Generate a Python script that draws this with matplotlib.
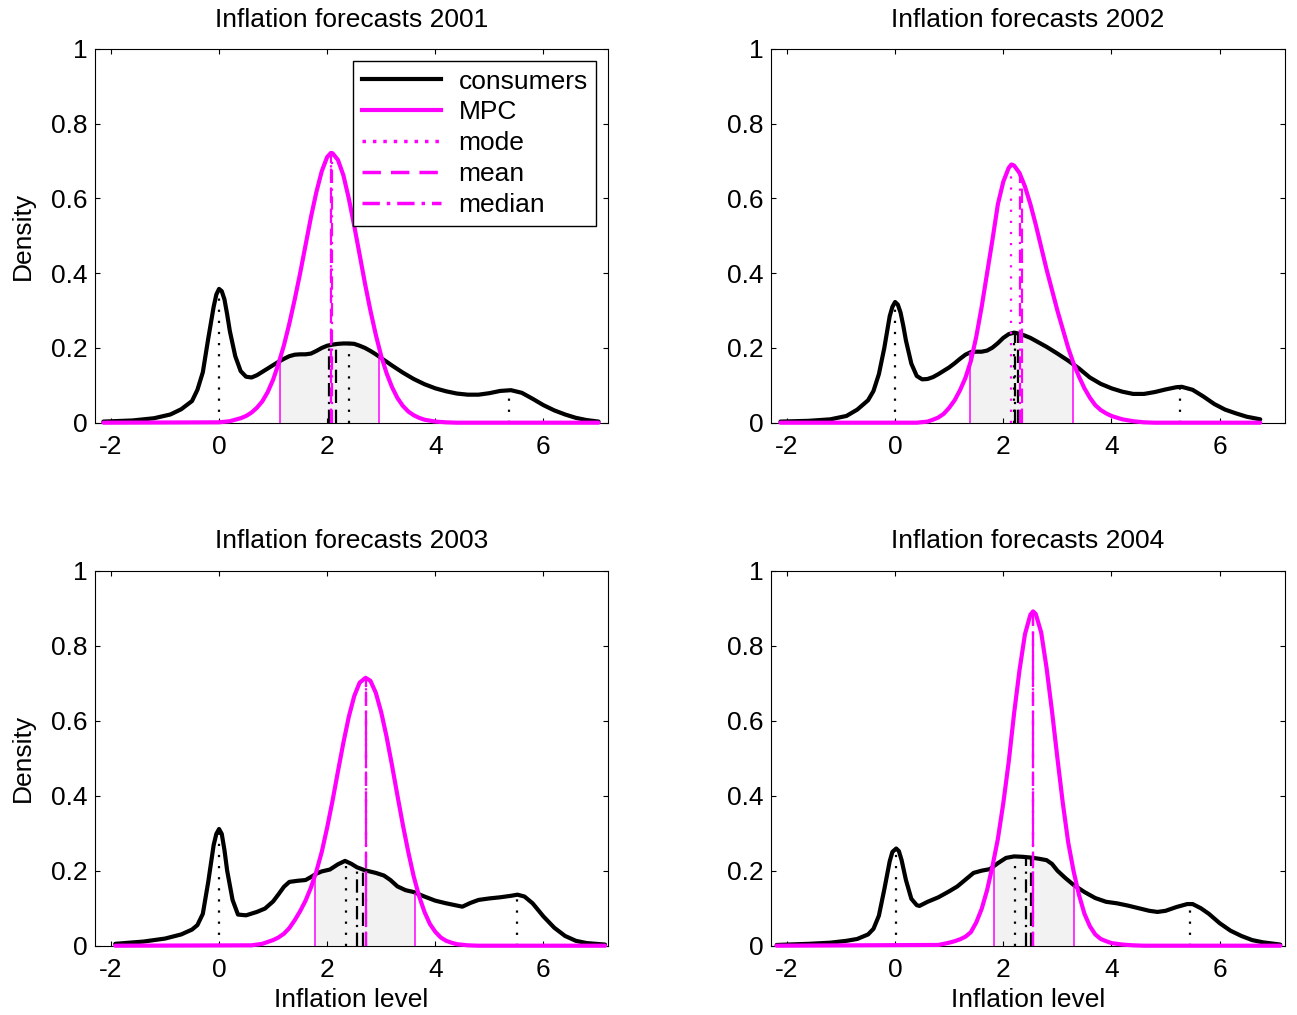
import numpy as np
import matplotlib
matplotlib.use("Agg")
import matplotlib.pyplot as plt
from matplotlib.lines import Line2D

plt.rcParams['font.family'] = ['Liberation Sans', 'DejaVu Sans']
plt.rcParams['axes.unicode_minus'] = False

# ---------------- data ----------------
years = [2001, 2002, 2003, 2004]

x_ticks = [-2, 0, 2, 4, 6]
x_tick_labels = ['-2', '0', '2', '4', '6']
y_ticks = [0, 0.2, 0.4, 0.6, 0.8, 1]
y_tick_labels = ['0', '0.2', '0.4', '0.6', '0.8', '1']
legend_labels = ['consumers', 'MPC', 'mode', 'mean', 'median']

# consumer densities (x, density)
cons_2001 = [(-2.14, .003), (-1.6, .006), (-1.2, .012), (-0.9, .022), (-0.7, .036), (-0.5, .058),
             (-0.4, .088), (-0.3, .135), (-0.2, .225), (-0.1, .31), (-0.05, .343), (0.0, .358),
             (0.05, .352), (0.1, .33), (0.15, .29), (0.2, .245), (0.3, .178), (0.4, .138), (0.5, .123),
             (0.6, .121), (0.7, .127), (0.8, .136), (0.9, .145), (1.0, .154), (1.1, .163), (1.2, .171),
             (1.3, .178), (1.4, .182), (1.5, .183), (1.6, .183), (1.7, .185), (1.8, .192), (1.9, .2),
             (2.0, .206), (2.1, .209), (2.2, .211), (2.3, .212), (2.4, .212), (2.5, .211), (2.6, .206),
             (2.7, .2), (2.8, .192), (2.9, .183), (3.0, .173), (3.2, .153), (3.4, .134), (3.6, .117),
             (3.8, .103), (4.0, .092), (4.2, .084), (4.4, .078), (4.6, .075), (4.8, .075), (5.0, .079),
             (5.2, .085), (5.4, .087), (5.6, .08), (5.8, .064), (6.0, .047), (6.2, .033), (6.4, .022),
             (6.6, .013), (6.8, .007), (7.02, .003)]
cons_2002 = [(-2.12, .003), (-1.6, .005), (-1.2, .009), (-0.9, .018), (-0.7, .035), (-0.5, .06),
             (-0.4, .085), (-0.3, .13), (-0.2, .2), (-0.1, .285), (-0.05, .31), (0.0, .323),
             (0.05, .316), (0.1, .295), (0.15, .26), (0.2, .22), (0.3, .158), (0.4, .125), (0.5, .116),
             (0.6, .117), (0.7, .122), (0.8, .13), (0.9, .139), (1.0, .148), (1.1, .159), (1.2, .171),
             (1.3, .182), (1.4, .189), (1.5, .19), (1.6, .19), (1.7, .193), (1.8, .201), (1.9, .213),
             (2.0, .227), (2.1, .237), (2.2, .241), (2.3, .238), (2.4, .233), (2.5, .227), (2.6, .219),
             (2.7, .211), (2.8, .203), (2.9, .194), (3.0, .185), (3.2, .166), (3.4, .145), (3.6, .121),
             (3.8, .104), (4.0, .092), (4.2, .083), (4.4, .077), (4.6, .077), (4.8, .082), (5.0, .089),
             (5.2, .095), (5.3, .096), (5.5, .088), (5.7, .07), (5.9, .05), (6.1, .035), (6.3, .025),
             (6.5, .016), (6.75, .009)]
cons_2003 = [(-1.92, .005), (-1.4, .011), (-1.0, .019), (-0.7, .03), (-0.5, .043), (-0.4, .055),
             (-0.3, .085), (-0.2, .17), (-0.1, .268), (-0.05, .298), (0.0, .311), (0.05, .298),
             (0.1, .255), (0.15, .2), (0.25, .122), (0.35, .083), (0.5, .081), (0.7, .09), (0.85, .099),
             (1.0, .118), (1.1, .137), (1.2, .157), (1.3, .17), (1.45, .173), (1.6, .175), (1.7, .183),
             (1.8, .192), (1.9, .198), (2.05, .203), (2.2, .217), (2.33, .226), (2.45, .218), (2.55, .209),
             (2.7, .201), (2.9, .194), (3.05, .187), (3.17, .175), (3.3, .158), (3.45, .148), (3.6, .143),
             (3.8, .131), (4.0, .12), (4.2, .113), (4.4, .107), (4.5, .104), (4.65, .114), (4.8, .122),
             (5.0, .126), (5.2, .129), (5.4, .133), (5.52, .136), (5.65, .131), (5.8, .113), (6.0, .078),
             (6.2, .048), (6.4, .026), (6.6, .013), (6.8, .007), (7.14, .003)]
cons_2004 = [(-2.19, .002), (-1.6, .005), (-1.2, .008), (-0.9, .013), (-0.7, .018), (-0.5, .03),
             (-0.4, .045), (-0.3, .08), (-0.2, .15), (-0.1, .225), (-0.05, .25), (0.02, .259),
             (0.07, .252), (0.12, .228), (0.2, .175), (0.3, .125), (0.4, .108), (0.45, .106), (0.6, .117),
             (0.8, .129), (1.0, .145), (1.15, .158), (1.3, .176), (1.45, .194), (1.6, .2), (1.75, .204),
             (1.9, .22), (2.05, .234), (2.2, .238), (2.35, .237), (2.5, .235), (2.65, .232), (2.8, .228),
             (2.9, .218), (3.0, .2), (3.15, .18), (3.3, .162), (3.5, .143), (3.7, .127), (3.9, .117),
             (4.1, .113), (4.3, .107), (4.5, .1), (4.7, .093), (4.85, .09), (5.0, .093), (5.2, .103),
             (5.4, .111), (5.5, .111), (5.65, .1), (5.8, .085), (6.0, .06), (6.2, .04), (6.4, .026),
             (6.6, .015), (6.8, .009), (7.12, .003)]

# MPC densities (x, density)
mpc_2001 = [(-2.14, 0), (0.0, .001), (0.2, .004), (0.4, .012), (0.5, .018), (0.6, .027), (0.7, .040),
            (0.8, .057), (0.9, .082), (1.0, .115), (1.1, .158), (1.2, .207), (1.3, .265), (1.4, .330),
            (1.5, .400), (1.6, .475), (1.7, .550), (1.8, .617), (1.9, .673), (2.0, .711), (2.07, .722),
            (2.1, .721), (2.2, .703), (2.3, .662), (2.4, .600), (2.5, .527), (2.6, .450), (2.7, .372),
            (2.8, .300), (2.9, .235), (3.0, .178), (3.1, .132), (3.2, .095), (3.3, .066), (3.4, .045),
            (3.5, .030), (3.6, .020), (3.7, .013), (3.8, .008), (4.0, .003), (4.2, .001), (4.4, 0),
            (7.02, 0)]
mpc_2002 = [(-2.12, 0), (0.4, 0), (0.6, .003), (0.7, .008), (0.8, .014), (0.9, .024), (1.0, .040),
            (1.1, .060), (1.2, .087), (1.3, .120), (1.4, .165), (1.5, .230), (1.6, .310), (1.7, .400),
            (1.8, .490), (1.9, .585), (2.0, .645), (2.1, .682), (2.15, .691), (2.2, .688), (2.3, .668),
            (2.4, .632), (2.5, .585), (2.6, .530), (2.7, .470), (2.8, .410), (2.9, .355), (3.0, .300),
            (3.1, .250), (3.2, .200), (3.3, .158), (3.4, .123), (3.5, .092), (3.6, .067), (3.7, .047),
            (3.8, .034), (3.9, .025), (4.0, .018), (4.2, .009), (4.4, .004), (4.6, .001), (4.8, 0),
            (6.75, 0)]
mpc_2003 = [(-1.92, 0), (0.6, .001), (0.8, .005), (0.9, .010), (1.0, .015), (1.1, .022), (1.2, .032),
            (1.3, .047), (1.4, .068), (1.5, .092), (1.6, .120), (1.7, .155), (1.8, .198), (1.9, .250),
            (2.0, .315), (2.1, .387), (2.2, .465), (2.3, .541), (2.4, .610), (2.5, .665), (2.6, .701),
            (2.71, .714), (2.8, .706), (2.9, .674), (3.0, .622), (3.1, .556), (3.2, .480), (3.3, .400),
            (3.4, .322), (3.5, .250), (3.6, .185), (3.7, .132), (3.8, .090), (3.9, .058), (4.0, .037),
            (4.1, .022), (4.2, .013), (4.3, .008), (4.4, .004), (4.6, .001), (4.8, 0), (7.14, 0)]
mpc_2004 = [(-2.19, 0), (0.8, .002), (1.0, .008), (1.1, .012), (1.2, .017), (1.3, .024), (1.4, .036),
            (1.5, .062), (1.6, .098), (1.7, .148), (1.8, .212), (1.9, .285), (2.0, .380), (2.1, .490),
            (2.2, .620), (2.3, .735), (2.4, .830), (2.5, .882), (2.55, .891), (2.6, .884), (2.7, .835),
            (2.8, .740), (2.9, .625), (3.0, .500), (3.1, .380), (3.2, .275), (3.3, .198), (3.4, .135),
            (3.5, .085), (3.6, .052), (3.7, .030), (3.8, .018), (3.9, .012), (4.0, .007), (4.2, .003),
            (4.4, .001), (4.6, 0), (7.12, 0)]

# summary statistics
cons_modes = [[0.0, 2.41, 5.37], [0.0, 2.19, 5.27], [0.0, 2.34, 5.52], [0.02, 2.21, 5.46]]
cons_means = [2.16, 2.27, 2.66, 2.51]
cons_medians = [2.04, 2.22, 2.56, 2.42]
mpc_modes = [2.07, 2.14, 2.71, 2.55]
mpc_means = [2.08, 2.34, 2.71, 2.55]
mpc_medians = [2.09, 2.30, 2.71, 2.55]
mpc_bands = [(1.13, 2.95), (1.39, 3.29), (1.77, 3.625), (1.83, 3.30)]

consumers = [cons_2001, cons_2002, cons_2003, cons_2004]
mpcs = [mpc_2001, mpc_2002, mpc_2003, mpc_2004]

# ---------------- figure ----------------
W, H = 1297, 1015
fig = plt.figure(figsize=(W / 100, H / 100), dpi=100)
boxes = [(94.7, 49, 608.3, 422.7), (770.7, 49, 1284.6, 422.7),
         (94.7, 570.5, 608.3, 945.7), (770.7, 570.5, 1284.6, 945.7)]

MAG = (1, 0, 1)
FS = 19

for i, year in enumerate(years):
    l, t, r, b = boxes[i]
    ax = fig.add_axes([l / W, 1 - b / H, (r - l) / W, (b - t) / H])
    cx, cy = np.array(consumers[i]).T
    mx, my = np.array(mpcs[i]).T

    # shaded band under consumer density
    lo, hi = mpc_bands[i]
    inside = (cx > lo) & (cx < hi)
    px = np.concatenate([[lo, lo], cx[inside], [hi, hi]])
    py = np.concatenate([[0, np.interp(lo, cx, cy)], cy[inside], [np.interp(hi, cx, cy), 0]])
    ax.fill(px, py, color='#f2f2f2', lw=0, zorder=1)

    # consumer vertical lines
    for m in cons_modes[i]:
        ax.vlines(m, 0, np.interp(m, cx, cy), colors='k', lw=1.6, linestyles=[(0, (1, 4))], zorder=2.5)
    ax.vlines(cons_means[i], 0, np.interp(cons_means[i], cx, cy), colors='k', lw=1.6,
              linestyles=[(0, (6, 3))], zorder=2.5)
    ax.vlines(cons_medians[i], 0, np.interp(cons_medians[i], cx, cy), colors='k', lw=1.6,
              linestyles=[(0, (6, 2.5, 1, 2.5))], zorder=2.5)

    # curves
    ax.plot(cx, cy, color='k', lw=3.0, zorder=3, clip_on=False, solid_capstyle='round',
            solid_joinstyle='round')
    ax.plot(mx, my, color=MAG, lw=3.0, zorder=4, clip_on=False, solid_capstyle='round',
            solid_joinstyle='round')

    # MPC band edges
    for e in (lo, hi):
        ax.vlines(e, 0, np.interp(e, cx, cy), colors=[MAG], lw=1.1, zorder=4.2)

    # MPC vertical lines
    ax.vlines(mpc_modes[i], 0, np.interp(mpc_modes[i], mx, my), colors=[MAG], lw=1.6,
              linestyles=[(0, (1, 4))], zorder=4.5)
    ax.vlines(mpc_means[i], 0, np.interp(mpc_means[i], mx, my), colors=[MAG], lw=1.6,
              linestyles=[(0, (6.5, 2.5))], zorder=4.5)
    ax.vlines(mpc_medians[i], 0, np.interp(mpc_medians[i], mx, my), colors=[MAG], lw=1.6,
              linestyles=[(0, (6, 2.5, 1, 2.5))], zorder=4.5)

    ax.set_xlim(-2.3, 7.2)
    ax.set_ylim(0, 1)
    ax.set_xticks(x_ticks)
    ax.set_xticklabels(x_tick_labels)
    ax.set_yticks(y_ticks)
    ax.set_yticklabels(y_tick_labels)
    ax.tick_params(direction='in', length=3.5, width=0.8, top=True, right=True,
                   labelsize=FS, colors='k')
    ax.tick_params(axis='x', pad=9)
    ax.tick_params(axis='y', pad=5)
    for s in ax.spines.values():
        s.set_linewidth(0.8)
        s.set_color('k')
        s.set_zorder(2)
    ax.set_title(f'Inflation forecasts {year}', fontsize=FS, pad=16)
    if i % 2 == 0:
        ax.set_ylabel('Density', fontsize=FS, labelpad=12)
    if i >= 2:
        ax.set_xlabel('Inflation level', fontsize=FS, labelpad=4)

    if i == 0:
        handles = [Line2D([], [], color='k', lw=3.0),
                   Line2D([], [], color=MAG, lw=3.0),
                   Line2D([], [], color=MAG, lw=2.5, ls=(0, (1, 2))),
                   Line2D([], [], color=MAG, lw=2.5, ls=(0, (5.3, 2.9))),
                   Line2D([], [], color=MAG, lw=2.5, ls=(0, (5, 2, 1, 2)))]
        leg = ax.legend(handles, legend_labels, loc='upper right', fontsize=FS, frameon=True,
                        fancybox=False, edgecolor='k', framealpha=1, borderaxespad=0.45,
                        handlelength=3.0, handletextpad=0.65, labelspacing=0.26, borderpad=0.33)
        leg.get_frame().set_linewidth(1.0)
        leg.set_zorder(10)

fig.savefig('out.png', dpi=100)
